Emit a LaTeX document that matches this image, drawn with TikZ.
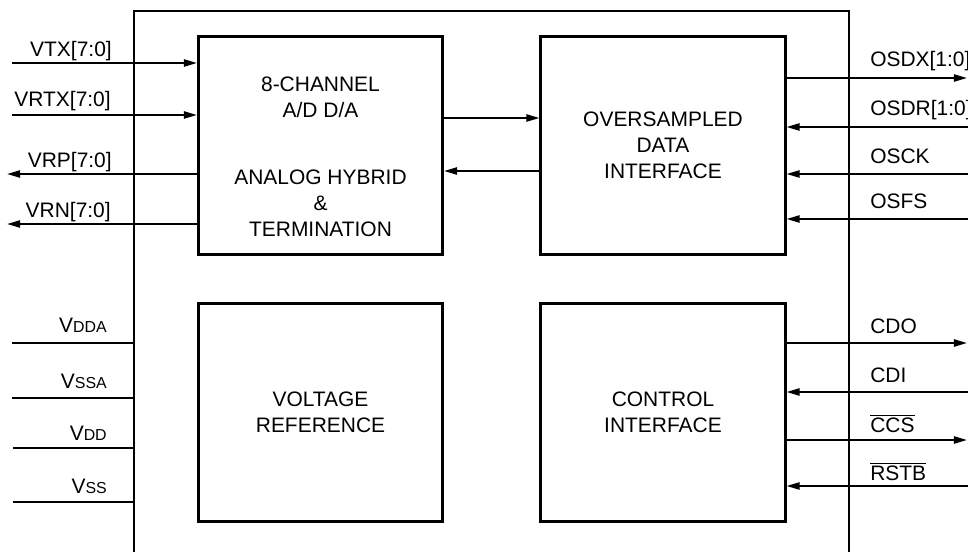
\documentclass[tikz,border=0pt]{standalone}
\usepackage{fontspec}
\setmainfont{Liberation Sans}
\usetikzlibrary{arrows.meta}
\newcommand{\smallsub}[1]{{\fontsize{11.3}{12}\selectfont #1}}
\newcommand{\barsig}[1]{$\overline{\hbox{#1}}$}
\begin{document}
\begin{tikzpicture}[x=0.025cm,y=-0.025cm,
    blk/.style={draw,line width=2.1pt,minimum width=6.1cm,minimum height=5.425cm,
      align=center,font=\fontsize{14.9}{18.6}\selectfont},
    sig/.style={line width=1.4pt},
    tip/.style={-{Triangle[length=0.33cm,width=0.18cm]}},
    lbl/.style={inner sep=0pt,font=\fontsize{14.9}{18.6}\selectfont}]
    \useasboundingbox (0,0) rectangle (968,552);

    % chip outline, open at the bottom
    \draw[line width=2.1pt] (134,552) -- (134,11) -- (849,11) -- (849,552);

    % blocks
    \node[blk] (adda) at (320.5,145.5) {};
    \node[blk] (osif) at (663,145.5) {OVERSAMPLED\\DATA\\INTERFACE};
    \node[blk] (vref) at (320.5,412.5) {VOLTAGE\\REFERENCE};
    \node[blk] (ctrl) at (663,412.5) {CONTROL\\INTERFACE};
    \node[lbl,align=center] (addatop) at (320.5,97) {8-CHANNEL\\A/D D/A};
    \node[lbl,align=center] (addabot) at (320.5,203.5) {ANALOG HYBRID\\\&\\TERMINATION};

    % analog pins
    \coordinate (vtx) at (12,63);
    \coordinate (vrtx) at (12,115);
    \coordinate (vrp) at (7,174);
    \coordinate (vrn) at (7,224);
    \draw[sig,tip] (vtx) -- (vtx -| adda.west);
    \draw[sig,tip] (vrtx) -- (vrtx -| adda.west);
    \draw[sig,tip] (vrp -| adda.west) -- (vrp);
    \draw[sig,tip] (vrn -| adda.west) -- (vrn);
    \node[lbl,anchor=base east] (vtxl) at (112,56) {VTX[7:0]};
    \node[lbl,anchor=base east] (vrtxl) at (111,106) {VRTX[7:0]};
    \node[lbl,anchor=base east] (vrpl) at (112,167) {VRP[7:0]};
    \node[lbl,anchor=base east] (vrnl) at (111,217) {VRN[7:0]};

    % supply pins
    \coordinate (vdda) at (12,343);
    \coordinate (vssa) at (12,398);
    \coordinate (vdd) at (13,448);
    \coordinate (vss) at (13,502);
    \coordinate (edge) at (134,300);
    \draw[sig] (vdda) -- (vdda -| edge);
    \draw[sig] (vssa) -- (vssa -| edge);
    \draw[sig] (vdd) -- (vdd -| edge);
    \draw[sig] (vss) -- (vss -| edge);
    \node[lbl,anchor=base east] (vddal) at (107,332) {V\smallsub{DDA}};
    \node[lbl,anchor=base east] (vssal) at (107,388) {V\smallsub{SSA}};
    \node[lbl,anchor=base east] (vddl) at (107,440) {V\smallsub{DD}};
    \node[lbl,anchor=base east] (vssl) at (107,493) {V\smallsub{SS}};

    % between the blocks
    \coordinate (fwd) at (492,118);
    \coordinate (bwd) at (492,171);
    \draw[sig,tip] (fwd -| adda.east) -- (fwd -| osif.west);
    \draw[sig,tip] (bwd -| osif.west) -- (bwd -| adda.east);

    % oversampled pins
    \coordinate (osdx) at (967,78);
    \coordinate (osdr) at (968,127);
    \coordinate (osck) at (968,174);
    \coordinate (osfs) at (968,219);
    \draw[sig,tip] (osdx -| osif.east) -- (osdx);
    \draw[sig,tip] (osdr) -- (osdr -| osif.east);
    \draw[sig,tip] (osck) -- (osck -| osif.east);
    \draw[sig,tip] (osfs) -- (osfs -| osif.east);
    \node[lbl,anchor=base west] (osdxl) at (870,66) {OSDX[1:0]};
    \node[lbl,anchor=base west] (osdrl) at (870,115) {OSDR[1:0]};
    \node[lbl,anchor=base west] (osckl) at (870,163) {OSCK};
    \node[lbl,anchor=base west] (osfsl) at (870,208) {OSFS};

    % control pins
    \coordinate (cdo) at (967,343);
    \coordinate (cdi) at (968,392);
    \coordinate (ccs) at (967,440);
    \coordinate (rstb) at (968,486);
    \draw[sig,tip] (cdo -| ctrl.east) -- (cdo);
    \draw[sig,tip] (cdi) -- (cdi -| ctrl.east);
    \draw[sig,tip] (ccs -| ctrl.east) -- (ccs);
    \draw[sig,tip] (rstb) -- (rstb -| ctrl.east);
    \node[lbl,anchor=base west] (cdol) at (870,333) {CDO};
    \node[lbl,anchor=base west] (cdil) at (870,382) {CDI};
    \node[lbl,anchor=base west] (ccsl) at (870,432) {\barsig{CCS}};
    \node[lbl,anchor=base west] (rstbl) at (870,480) {\barsig{RSTB}};
\end{tikzpicture}
\end{document}
